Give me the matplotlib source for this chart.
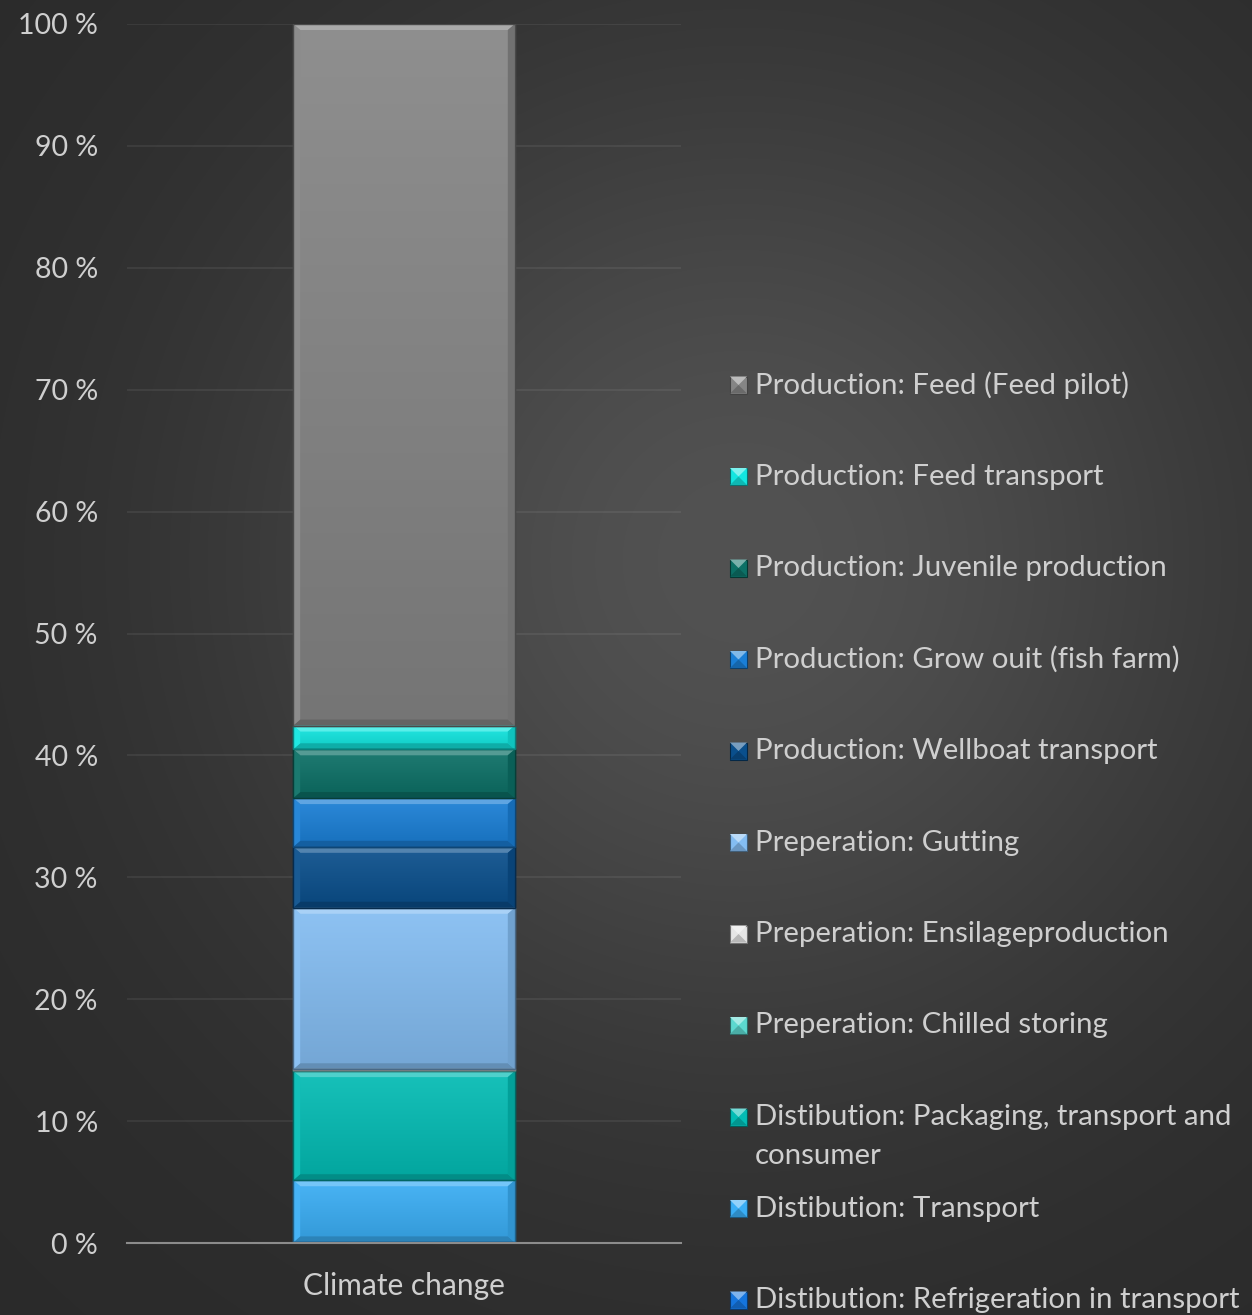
import matplotlib
matplotlib.use("Agg")
import matplotlib.pyplot as plt
from matplotlib.patches import Polygon, Rectangle
from matplotlib.colors import to_rgb
import numpy as np

plt.rcParams['font.family'] = ['Lato', 'DejaVu Sans']

# stack order: bottom -> top
labels = [
    "Distibution: Refrigeration in transport",
    "Distibution: Transport",
    "Distibution: Packaging, transport and\nconsumer",
    "Preperation: Chilled storing",
    "Preperation: Ensilageproduction",
    "Preperation: Gutting",
    "Production: Wellboat transport",
    "Production: Grow ouit (fish farm)",
    "Production: Juvenile production",
    "Production: Feed transport",
    "Production: Feed (Feed pilot)",
]
values = [0.05, 5.1, 8.95, 0.1, 0.05, 13.25, 5.0, 4.0, 4.0, 1.95, 57.55]
colors = ["#1575dd", "#3aaef5", "#03bcb4", "#5cd8cf", "#e6e6e6", "#84bdf2",
          "#0a4f8c", "#1a7fd6", "#0c7066", "#12e6e0", "#858585"]
category = "Climate change"
yticks = list(range(0, 101, 10))

TXT = "#cfcfcf"


def shade(c, f):
    r = np.array(to_rgb(c))
    if f > 0:
        return tuple(r + (1 - r) * f)
    return tuple(r * (1 + f))


fig = plt.figure(figsize=(12.52, 13.15), dpi=100)

# background radial gradient
bg = fig.add_axes([0, 0, 1, 1], zorder=-10)
yy, xx = np.mgrid[0:1315, 0:1252]
d = np.hypot(xx - 740, yy - 560)
t = np.exp(-(d / 520.0) ** 2)
v = (42 + 40 * t) / 255.0
bg.imshow(np.dstack([v, v, v]), aspect='auto', extent=[0, 1, 0, 1])
bg.axis('off')

ax = fig.add_axes([127 / 1252, 72 / 1315, 554 / 1252, 1219 / 1315])
ax.patch.set_alpha(0)
ax.set_xlim(-0.5, 0.5)
ax.set_ylim(0, 100)

bw = 0.4
bottom = 0
bdx = 7 / 554
for val, col in zip(values, colors):
    bars = ax.bar(0, val, bw, bottom=bottom, color=col, edgecolor=shade(col, -0.45),
                  linewidth=1.0, zorder=3)
    x0, x1 = -bw / 2, bw / 2
    y0, y1 = bottom, bottom + val
    # vertical gradient inside the segment
    c_top = np.array(shade(col, 0.08))
    c_bot = np.array(shade(col, -0.12))
    g = np.linspace(0, 1, 64)[:, None]
    img = (c_top[None, :] * (1 - g) + c_bot[None, :] * g)[:, None, :]
    im = ax.imshow(img, extent=[x0, x1, y0, y1], aspect='auto', zorder=3.5,
                   interpolation='bilinear')
    im.set_clip_path(bars[0])
    bdy = min(6 / 12.19, val / 2)
    dx = bdx
    # top, bottom, left, right bevels
    ax.add_patch(Polygon([(x0, y1), (x1, y1), (x1 - dx, y1 - bdy), (x0 + dx, y1 - bdy)],
                         closed=True, color=shade(col, 0.3), lw=0, zorder=4))
    ax.add_patch(Polygon([(x0, y0), (x1, y0), (x1 - dx, y0 + bdy), (x0 + dx, y0 + bdy)],
                         closed=True, color=shade(col, -0.25), lw=0, zorder=4))
    ax.add_patch(Polygon([(x0, y0), (x0, y1), (x0 + dx, y1 - bdy), (x0 + dx, y0 + bdy)],
                         closed=True, color=shade(col, 0.06), lw=0, zorder=4))
    ax.add_patch(Polygon([(x1, y0), (x1, y1), (x1 - dx, y1 - bdy), (x1 - dx, y0 + bdy)],
                         closed=True, color=shade(col, -0.15), lw=0, zorder=4))
    ax.add_patch(Rectangle((x0, y0), bw, val, fill=False, edgecolor=shade(col, -0.45),
                           lw=1.0, zorder=4.5))
    bottom += val

ax.set_yticks(yticks)
ax.set_yticklabels([f"{y} %" for y in yticks])
ax.set_xticks([0])
ax.set_xticklabels([category])
ax.tick_params(axis='y', length=0, pad=21, labelsize=20.5, labelcolor=TXT)
ax.tick_params(axis='x', length=0, pad=21, labelsize=21.5, labelcolor=TXT)
ax.grid(axis='y', color='white', alpha=0.08, linewidth=1.2, zorder=0)
ax.set_axisbelow(True)
for s in ['top', 'right', 'left']:
    ax.spines[s].set_visible(False)
ax.spines['bottom'].set_color('#8c8c8c')
ax.spines['bottom'].set_linewidth(1.5)
ax.spines['bottom'].set_zorder(5)

# legend, top entry = top of stack
W, H = 1252, 1315
y_first, step = 385, 91.5
msz = 17
for i, (lab, col) in enumerate(zip(labels[::-1], colors[::-1])):
    yc = y_first + i * step
    mx, my = 730, yc - msz / 2
    fig.patches.append(Rectangle((mx / W, 1 - (my + msz) / H), msz / W, msz / H,
                                 transform=fig.transFigure, facecolor=col,
                                 edgecolor=shade(col, -0.5), linewidth=0.8))
    fig.patches.append(Polygon([(mx / W, 1 - my / H), ((mx + msz) / W, 1 - my / H),
                                ((mx + msz / 2) / W, 1 - (my + msz / 2) / H)],
                               closed=True, transform=fig.transFigure,
                               color=shade(col, 0.45), lw=0))
    fig.patches.append(Polygon([(mx / W, 1 - (my + msz) / H), ((mx + msz) / W, 1 - (my + msz) / H),
                                ((mx + msz / 2) / W, 1 - (my + msz / 2) / H)],
                               closed=True, transform=fig.transFigure,
                               color=shade(col, -0.2), lw=0))
    for j, line in enumerate(lab.split("\n")):
        fig.text(755 / W, 1 - (yc + j * 39) / H, line, fontsize=21.2, color=TXT,
                 va='center', ha='left')

fig.savefig("out.png", dpi=100)
